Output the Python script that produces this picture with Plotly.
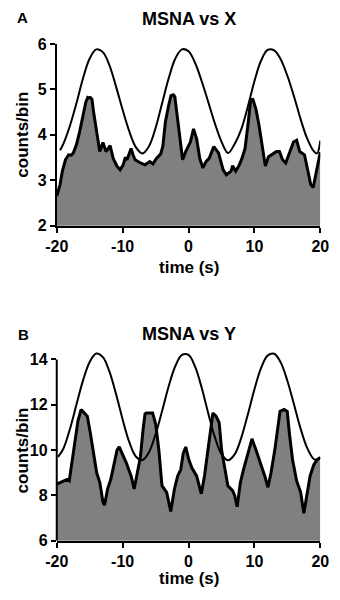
import plotly.graph_objects as go

# ---------------- Panel A: MSNA vs X ----------------
msna_x_t = [-20, -19.49, -19.15, -18.68, -18.2, -17.8, -17.49, -17.02, -16.54, -16.07, -15.6, -15.3,
            -15.12, -14.9, -14.65, -14.41, -13.94, -13.47, -12.99, -12.75, -12.52, -11.9, -11.6, -11.43,
            -10.86, -10.38, -9.91, -9.6, -9.34, -8.72, -8.4, -8.1, -7.3, -6.6, -5.88, -5.4, -4.88, -4.22,
            -3.9, -3.51, -3.03, -2.66, -2.3, -2.08, -1.6, -1.14, -0.9, -0.43, 0.28, 0.76, 1.23, 1.71,
            2.18, 2.65, 3.13, 3.84, 4.55, 5.26, 5.74, 6.45, 6.69, 7.16, 7.63, 8.11, 8.58, 9.06, 9.43,
            9.77, 10.24, 10.71, 11.19, 11.66, 12.14, 12.61, 13.33, 13.8, 14.27, 14.75, 15.22, 15.93,
            16.41, 16.88, 17.6, 18.07, 18.54, 18.92, 19.4, 19.96, 20]
msna_x_v = [2.65, 2.91, 3.20, 3.45, 3.56, 3.55, 3.60, 3.78, 4.06, 4.42, 4.71, 4.82,
            4.81, 4.82, 4.78, 4.50, 4.06, 3.63, 3.83, 3.70, 3.63, 3.76, 3.60, 3.48,
            3.31, 3.23, 3.34, 3.50, 3.45, 3.70, 3.55, 3.45, 3.38, 3.34, 3.41, 3.36, 3.48, 3.58,
            3.75, 4.28, 4.64, 4.86, 4.88, 4.84, 4.28, 3.71, 3.45, 3.63, 3.84, 4.13, 3.91, 3.48,
            3.27, 3.41, 3.48, 3.74, 3.60, 3.23, 3.12, 3.20, 3.32, 3.20, 3.31, 3.48, 3.70, 4.27, 4.77,
            4.78, 4.56, 4.20, 3.70, 3.31, 3.52, 3.56, 3.63, 3.63, 3.45, 3.38, 3.56, 3.84,
            3.88, 3.63, 3.56, 3.20, 2.91, 2.84, 3.20, 3.60, 3.62]

sig_x_t = [-19.5, -19, -18, -17, -16, -15, -14, -13, -12, -11, -10, -9, -8, -7, -6, -5, -4, -3, -2, -1,
           0, 1, 2, 3, 4, 5, 6, 7, 8, 9, 10, 11, 12, 13, 14, 15, 16, 17, 18, 19, 19.5, 20]
sig_x_v = [3.66, 3.80, 4.20, 4.70, 5.25, 5.68, 5.88, 5.82, 5.53, 5.06, 4.55, 4.08, 3.73, 3.59, 3.75,
           4.15, 4.70, 5.25, 5.68, 5.88, 5.84, 5.58, 5.18, 4.72, 4.25, 3.85, 3.60, 3.80, 4.12, 4.62,
           5.18, 5.63, 5.87, 5.86, 5.66, 5.30, 4.85, 4.35, 3.92, 3.64, 3.59, 3.87]

# ---------------- Panel B: MSNA vs Y ----------------
msna_y_t = [-20, -19.39, -18.92, -18.44, -18.1, -17.73, -17.26, -16.78, -16.31, -15.83, -15.36, -14.88,
            -14.41, -13.94, -13.46, -12.99, -12.75, -12.28, -11.8, -11.33, -10.85, -10.52, -10.05, -9.43,
            -8.72, -8.25, -7.77, -7.3, -6.9, -6.6, -6.4, -5.45, -4.98, -4.5, -4.03, -3.32, -2.7, -2.13,
            -1.65, -1.18, -0.8, -0.43, 0.05, 0.52, 1.23, 1.94, 2.42, 2.89, 3.37, 3.7, 4.17, 4.65, 5.02,
            5.5, 5.97, 6.69, 7.0, 7.38, 7.87, 8.34, 9.06, 9.63, 10.24, 10.95, 11.57, 12.05, 12.52, 13.09,
            13.57, 13.89, 14.51, 14.98, 15.32, 15.79, 16.41, 17.02, 17.5, 17.97, 18.45, 19.02, 19.5, 20]
msna_y_v = [8.50, 8.57, 8.64, 8.71, 8.65, 9.43, 10.43, 11.29, 11.79, 11.64, 11.50, 10.71,
            9.86, 9.00, 8.57, 7.71, 7.57, 8.29, 8.71, 9.29, 10.00, 10.14, 9.86, 9.43,
            8.86, 8.29, 9.00, 9.71, 10.90, 11.60, 11.64, 11.64, 11.14, 10.00, 8.43, 8.14, 7.29, 8.29,
            8.86, 9.14, 9.86, 10.14, 9.57, 9.21, 8.86, 8.07, 8.86, 9.86, 11.00, 11.64, 11.50, 11.21, 10.00,
            9.14, 8.43, 8.21, 8.00, 7.50, 8.57, 9.14, 9.86, 10.50, 10.00, 9.43, 8.86, 8.36, 9.00, 10.00,
            11.00, 11.71, 11.79, 11.71, 10.71, 9.57, 8.64, 8.14, 7.21, 8.00, 8.86, 9.36, 9.57, 9.68]

sig_y_t = [-19.8, -19, -18, -17, -16, -15, -14, -13, -12, -11, -10, -9, -8, -7, -6, -5, -4, -3, -2, -1,
           0, 1, 2, 3, 4, 5, 6, 7, 8, 9, 10, 11, 12, 13, 14, 15, 16, 17, 18, 19, 19.5, 20]
sig_y_v = [9.70, 10.06, 10.93, 12.02, 13.09, 13.89, 14.26, 14.10, 13.46, 12.47, 11.35, 10.36, 9.72,
           9.56, 9.91, 10.70, 11.74, 12.83, 13.71, 14.20, 14.20, 13.68, 12.75, 11.62, 10.57, 9.82,
           9.55, 9.81, 10.54, 11.57, 12.68, 13.62, 14.17, 14.25, 13.86, 13.06, 12.02, 10.96, 10.10,
           9.61, 9.58, 9.68]

x_ticks = [-20, -10, 0, 10, 20]
x_tick_text = ["-20", "-10", "0", "10", "20"]
yA_ticks = [2, 3, 4, 5, 6]
yB_ticks = [6, 8, 10, 12, 14]

FONT = "Liberation Sans, Arial, Helvetica, sans-serif"

fig = go.Figure()

fig.add_trace(go.Scatter(x=msna_x_t, y=msna_x_v, mode="lines", fill="tozeroy",
                         fillcolor="#808080", line=dict(color="black", width=3),
                         xaxis="x", yaxis="y", showlegend=False))
fig.add_trace(go.Scatter(x=sig_x_t, y=sig_x_v, mode="lines", line_shape="spline",
                         line=dict(color="black", width=2),
                         xaxis="x", yaxis="y", showlegend=False))
fig.add_trace(go.Scatter(x=msna_y_t, y=msna_y_v, mode="lines", fill="tozeroy",
                         fillcolor="#808080", line=dict(color="black", width=3),
                         xaxis="x2", yaxis="y2", showlegend=False))
fig.add_trace(go.Scatter(x=sig_y_t, y=sig_y_v, mode="lines", line_shape="spline",
                         line=dict(color="black", width=2),
                         xaxis="x2", yaxis="y2", showlegend=False))

x_dom = [47.7 / 340, 328.6 / 340]
axis_common = dict(linecolor="black", linewidth=2, ticks="outside",
                   ticklen=5, tickwidth=2, tickcolor="black", showgrid=False, zeroline=False,
                   ticklabeloverflow="allow",
                   tickfont=dict(family=FONT, size=16, color="black", weight="bold"))

# panel B: y range extended a little above 14 so the curve's peaks are not clipped;
# the visible axis line stops at 14 (drawn as a shape)
B_TOP = 14.4
px_per_unit_B = (548.3 - 361.7) / 8.0
B_dom_top_px = 361.7 - (B_TOP - 14) * px_per_unit_B

fig.update_layout(
    width=340, height=600,
    margin=dict(l=0, r=0, t=0, b=0),
    paper_bgcolor="white", plot_bgcolor="white",
    xaxis=dict(domain=x_dom, range=[-20, 20], tickvals=x_ticks, ticktext=x_tick_text,
               anchor="y", showline=True, **axis_common),
    yaxis=dict(domain=[1 - 224 / 600, 1 - 37 / 600], range=[2, 6], tickvals=yA_ticks,
               anchor="x", showline=True, **axis_common),
    xaxis2=dict(domain=x_dom, range=[-20, 20], tickvals=x_ticks, ticktext=x_tick_text,
                anchor="y2", showline=True, **axis_common),
    yaxis2=dict(domain=[1 - 548.3 / 600, 1 - B_dom_top_px / 600], range=[6, B_TOP],
                tickvals=yB_ticks, anchor="x2", showline=False, **axis_common),
)

fig.add_shape(type="line", xref="x2 domain", yref="y2", x0=0, x1=0, y0=6, y1=14,
              line=dict(color="black", width=2))

def ann(text, px, py, size, angle=0):
    fig.add_annotation(text=text, x=px / 340, y=1 - py / 600, xref="paper", yref="paper",
                       xanchor="center", yanchor="middle", showarrow=False, textangle=angle,
                       font=dict(family=FONT, size=size, color="black", weight="bold"))

ann("A", 11, 10, 15)
ann("MSNA vs X", 189, 11, 18)
ann("time (s)", 189, 267, 17)
ann("counts/bin", 11, 130, 17, -90)
ann("B", 12.5, 336, 15)
ann("MSNA vs Y", 189, 335, 18)
ann("time (s)", 189, 587, 17)
ann("counts/bin", 11, 455, 17, -90)

fig.write_html("out.html", config={"displayModeBar": False},
               post_script="document.body.style.margin='0';document.body.style.overflow='hidden';")
